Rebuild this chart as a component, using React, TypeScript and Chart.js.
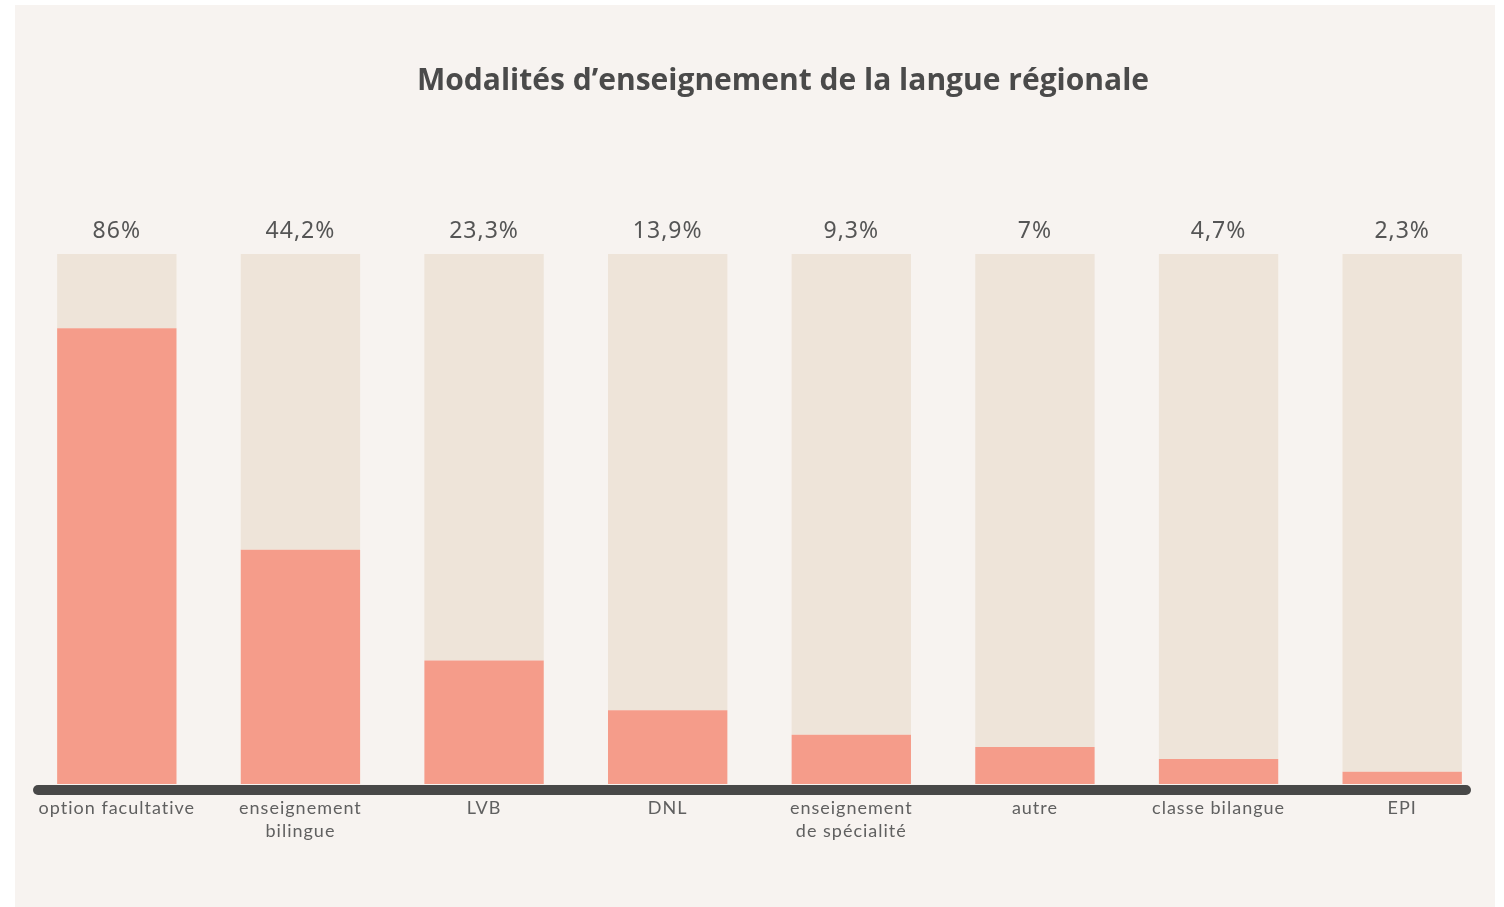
import React, { useEffect, useRef } from "react";
import { Chart, registerables } from "chart.js";

Chart.register(...registerables);

const TITLE = "Modalités d’enseignement de la langue régionale";
const categories: string[][] = [
  ["option facultative"],
  ["enseignement", "bilingue"],
  ["LVB"],
  ["DNL"],
  ["enseignement", "de spécialité"],
  ["autre"],
  ["classe bilangue"],
  ["EPI"],
];
const values: number[] = [86, 44.2, 23.3, 13.9, 9.3, 7, 4.7, 2.3];
const valueLabels: string[] = ["86%", "44,2%", "23,3%", "13,9%", "9,3%", "7%", "4,7%", "2,3%"];
const remainder: number[] = values.map((v) => 100 - v);

const SALMON = "#f59c8a";
const BEIGE = "#eee4d9";
const PANEL = "#f7f3f0";

export default function App() {
  const ref = useRef<HTMLCanvasElement | null>(null);

  useEffect(() => {
    if (!ref.current) return;
    const decor = {
      id: "decor",
      beforeDraw(chart: any) {
        const ctx = chart.ctx;
        ctx.save();
        ctx.fillStyle = "#ffffff";
        ctx.fillRect(0, 0, chart.width, chart.height);
        ctx.fillStyle = PANEL;
        ctx.fillRect(15, 5, 1480, chart.height - 5);
        ctx.fillStyle = "#4a4a4a";
        ctx.font = "bold 30px 'Open Sans'";
        ctx.textAlign = "center";
        ctx.textBaseline = "middle";
        ctx.fillText(TITLE, 783, 81);
        ctx.restore();
      },
      afterDatasetsDraw(chart: any) {
        const ctx = chart.ctx;
        const xs = chart.scales.x;
        const area = chart.chartArea;
        ctx.save();
        // baseline
        ctx.strokeStyle = "#484848";
        ctx.lineWidth = 10;
        ctx.lineCap = "round";
        ctx.beginPath();
        ctx.moveTo(38, area.bottom + 6);
        ctx.lineTo(1466, area.bottom + 6);
        ctx.stroke();
        // value labels
        ctx.fillStyle = "#555555";
        ctx.font = "23px 'Noto Sans'";
        ctx.textAlign = "center";
        ctx.textBaseline = "middle";
        (ctx as any).letterSpacing = "1px";
        valueLabels.forEach((t, i) => {
          ctx.fillText(t, xs.getPixelForValue(i), area.top - 23);
        });
        // category labels
        ctx.fillStyle = "#606060";
        ctx.font = "18px Lato";
        (ctx as any).letterSpacing = "1px";
        categories.forEach((lines, i) => {
          lines.forEach((l, j) => {
            ctx.fillText(l, xs.getPixelForValue(i), area.bottom + 24 + j * 23);
          });
        });
        ctx.restore();
      },
    };
    const chart = new Chart(ref.current, {
      type: "bar",
      data: {
        labels: categories.map((c) => c.join(" ")),
        datasets: [
          { data: values, backgroundColor: SALMON, stack: "s" },
          { data: remainder, backgroundColor: BEIGE, stack: "s" },
        ],
      },
      options: {
        animation: false,
        responsive: false,
        maintainAspectRatio: false,
        layout: { padding: { left: 25, right: 10, top: 254, bottom: 123 } },
        datasets: { bar: { categoryPercentage: 1, barPercentage: 0.65 } },
        scales: {
          x: { stacked: true, display: false },
          y: { stacked: true, display: false, min: 0, max: 100 },
        },
        plugins: {
          legend: { display: false },
          tooltip: { enabled: false },
          title: { display: false },
        },
      },
      plugins: [decor],
    });
    return () => chart.destroy();
  }, []);

  return (
    <div style={{ position: "fixed", left: 0, top: 0, width: 1504, height: 907 }}>
      <canvas ref={ref} width={1504} height={907} style={{ display: "block", width: 1504, height: 907 }} />
    </div>
  );
}
